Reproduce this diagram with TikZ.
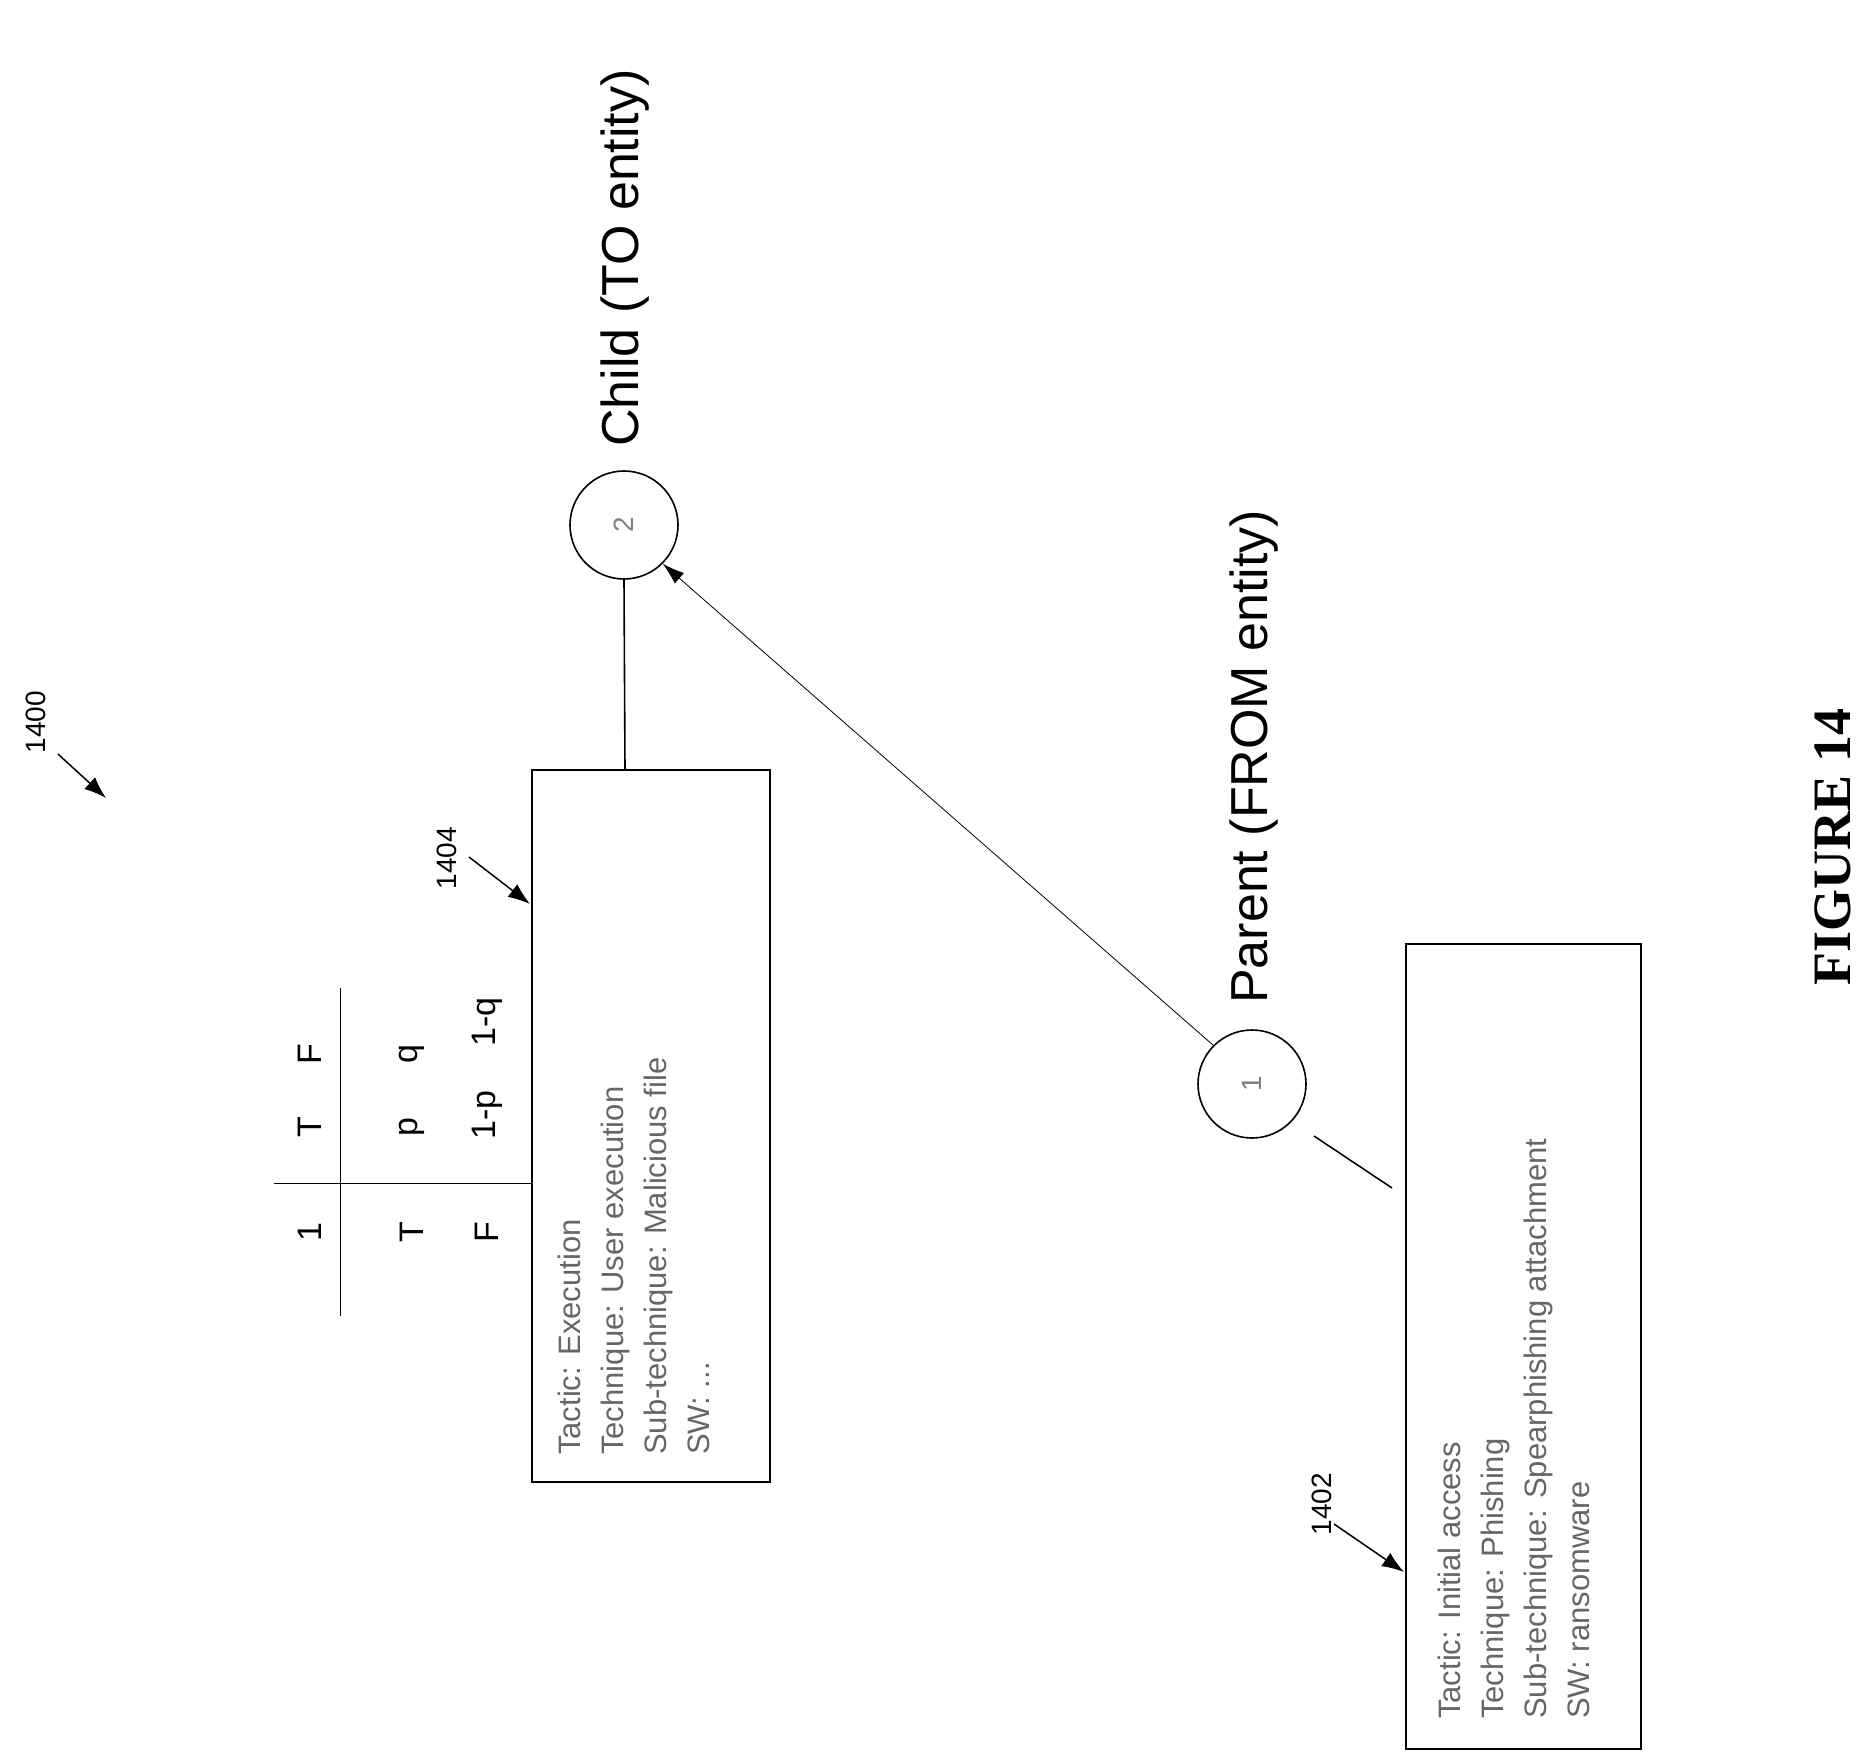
\documentclass[tikz,border=0pt]{standalone}
\usepackage{fontspec}
\setmainfont{Liberation Sans}
\newfontfamily\figfont{Liberation Serif}
\usetikzlibrary{arrows.meta}
\begin{document}
\begin{tikzpicture}[x=1pt,y=-1pt,
  box/.style={draw,line width=2pt},
  circ/.style={draw,circle,line width=1.6pt,minimum size=108pt,inner sep=0pt,font=\fontsize{28}{30}\selectfont\color{gray}},
  big/.style={rotate=90,font=\fontsize{52}{56}\selectfont,inner sep=0pt},
  tab/.style={rotate=90,font=\fontsize{34}{36}\selectfont,inner sep=0pt},
  info/.style={rotate=90,anchor=north west,align=left,font=\fontsize{31}{43}\selectfont\color{gray!80!black},inner sep=0pt},
  ref/.style={rotate=90,font=\fontsize{28}{30}\selectfont,inner sep=0pt},
  refarrow/.style={-{Latex[length=22pt,width=16pt]},line width=1.5pt}]
\useasboundingbox (0,0) rectangle (1875,1759);
% circles
\node[circ] (c2) at (624,525) {\rotatebox{90}{2}};
\node[circ] (c1) at (1252,1084) {\rotatebox{90}{1}};
\node[big,anchor=west] (child) at (625,447) {Child (TO entity)};
\node[big,anchor=west] (parent) at (1254,1004) {Parent (FROM entity)};
% boxes
\node[box,minimum width=238pt,minimum height=712pt,inner sep=0pt] (b4) at (651,1126) {};
\node[box,minimum width=235pt,minimum height=805pt,inner sep=0pt] (b2) at (1523.5,1346.5) {};
\node[info] (t4) at (558,1455) {Tactic: Execution\\Technique: User execution\\Sub-technique: Malicious file\\SW: ...};
\node[info] (t2) at (1438,1719) {Tactic: Initial access\\Technique: Phishing\\Sub-technique: Spearphishing attachment\\SW: ransomware};
% connectors
\coordinate (b4top) at (625,770);
\draw[line width=1.6pt] (c2.south) -- (b4top);
\draw[-{Latex[length=22pt,width=14pt]},line width=0.8pt] (c1.north west) -- (c2.south east);
\coordinate (l2a) at (1314,1136);
\coordinate (l2b) at (1392,1188);
\draw[line width=1.6pt] (l2a) -- (l2b);
% table
\coordinate (h1) at (274,1183); \coordinate (h2) at (532,1183);
\coordinate (v1) at (340,988); \coordinate (v2) at (340,1316);
\draw[line width=0.8pt] (h1) -- (h2);
\draw[line width=0.8pt] (v1) -- (v2);
\node[tab] (a1) at (310,1232) {1};
\node[tab] (a2) at (310,1127) {T};
\node[tab] (a3) at (310,1054) {F};
\node[tab] (a4) at (412,1232) {T};
\node[tab] (a5) at (412,1127) {p};
\node[tab] (a6) at (412,1054) {q};
\node[tab] (a7) at (487,1232) {F};
\node[tab] (a8) at (487,1115) {1-p};
\node[tab] (a9) at (487,1022) {1-q};
% reference labels
\node[ref] (r0) at (36,722) {1400};
\coordinate (r0a) at (58,754); \coordinate (r0b) at (106,798);
\draw[refarrow] (r0a) -- (r0b);
\node[ref] (r4) at (447,858) {1404};
\coordinate (r4a) at (469,857); \coordinate (r4b) at (530,904);
\draw[refarrow] (r4a) -- (r4b);
\node[ref] (r2) at (1322,1504) {1402};
\coordinate (r2a) at (1334,1524); \coordinate (r2b) at (1404,1572);
\draw[refarrow] (r2a) -- (r2b);
\node[rotate=90,font=\figfont\bfseries\fontsize{54}{58}\selectfont] (fig) at (1833,847) {FIGURE 14};
\end{tikzpicture}
\end{document}
